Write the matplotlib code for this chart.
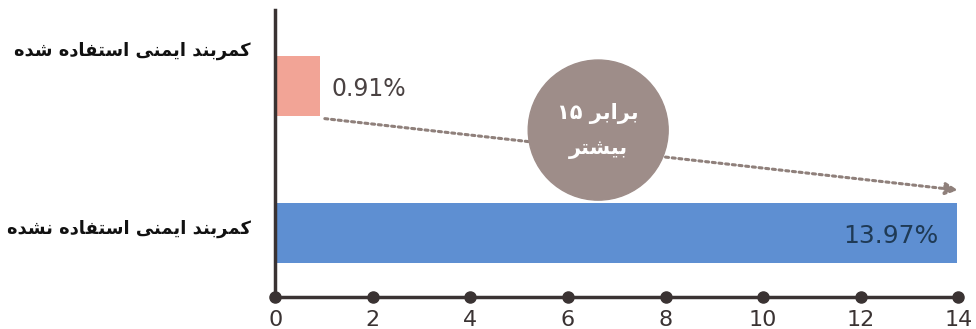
import re
import matplotlib
matplotlib.use("Agg")
import matplotlib.pyplot as plt
from matplotlib.patches import Ellipse

# data
categories = ["کمربند ایمنی استفاده نشده", "کمربند ایمنی استفاده شده"]
values = [13.97, 0.91]
value_labels = ["13.97%", "0.91%"]
bar_colors = ["#5e8fd2", "#f2a496"]
xticks = [0, 2, 4, 6, 8, 10, 12, 14]
bubble_text = ["برابر ۱۵", "بیشتر"]

# minimal arabic/persian shaping (no reshaper lib in the sandbox)
FORMS = {
    'ا': ('\uFE8D', '\uFE8E', None, None),
    'ب': ('\uFE8F', '\uFE90', '\uFE91', '\uFE92'),
    'ت': ('\uFE95', '\uFE96', '\uFE97', '\uFE98'),
    'د': ('\uFEA9', '\uFEAA', None, None),
    'ر': ('\uFEAD', '\uFEAE', None, None),
    'س': ('\uFEB1', '\uFEB2', '\uFEB3', '\uFEB4'),
    'ش': ('\uFEB5', '\uFEB6', '\uFEB7', '\uFEB8'),
    'ف': ('\uFED1', '\uFED2', '\uFED3', '\uFED4'),
    'ک': ('\uFED9', '\uFEDA', '\uFEDB', '\uFEDC'),
    'م': ('\uFEE1', '\uFEE2', '\uFEE3', '\uFEE4'),
    'ن': ('\uFEE5', '\uFEE6', '\uFEE7', '\uFEE8'),
    'ه': ('\uFEE9', '\uFEEA', '\uFEEB', '\uFEEC'),
    'ی': ('\uFEEF', '\uFEF0', '\uFEF3', '\uFEF4'),
}

def shape(s):
    out = []
    for i, ch in enumerate(s):
        f = FORMS.get(ch)
        if f is None:
            out.append(ch)
            continue
        prev = s[i-1] if i > 0 else None
        nxt = s[i+1] if i+1 < len(s) else None
        jp = prev in FORMS and FORMS[prev][2] is not None
        jn = nxt in FORMS and f[2] is not None
        if jp and jn:
            out.append(f[3])
        elif jp:
            out.append(f[1])
        elif jn:
            out.append(f[2])
        else:
            out.append(f[0])
    return ''.join(out)

def rtl(s):
    # matplotlib draws glyphs left to right, so flip to visual order
    v = shape(s)[::-1]
    return re.sub(r'[۰-۹0-9]+', lambda m: m.group(0)[::-1], v)

fig = plt.figure(figsize=(9.76, 3.29), dpi=100)
ax = fig.add_axes([0.282, 0.097, 0.6998, 0.873])

ypos = [0, 1]
ax.barh(ypos, values, height=0.41, color=bar_colors, zorder=2)
ax.set_xlim(0, 14)
ax.set_ylim(-0.435, 1.517)

for sp in ["top", "right"]:
    ax.spines[sp].set_visible(False)
axis_col = "#3a3333"
ax.spines["left"].set_color(axis_col)
ax.spines["bottom"].set_color(axis_col)
ax.spines["left"].set_linewidth(2.5)
ax.spines["bottom"].set_linewidth(2.5)

ax.set_xticks(xticks)
ax.set_xticklabels([str(t) for t in xticks], fontsize=16, color="#3a3333")
ax.tick_params(axis="x", length=0, pad=9)
ax.set_yticks([])
ax.plot(xticks, [-0.435] * len(xticks), "o", color=axis_col, ms=8,
        clip_on=False, zorder=5)

# category labels (top one sits above its bar in the source)
label_y = [0.03, 1.24]
for y, c in zip(label_y, categories):
    ax.text(-0.5, y, rtl(c), ha="right", va="center", fontsize=12.9,
            fontweight="bold", color="#111111", family="DejaVu Sans")

# value labels
ax.text(values[0] - 0.38, ypos[0] - 0.02, value_labels[0], ha="right",
        va="center", fontsize=18, color="#1f3a55")
ax.text(values[1] + 0.25, ypos[1] - 0.02, value_labels[1], ha="left",
        va="center", fontsize=17, color="#4a4242")

# dotted arrow
ax.annotate("", xy=(14.05, 0.29), xytext=(0.96, 0.78),
            arrowprops=dict(arrowstyle="-|>", color="#8f807b", lw=2.2,
                            linestyle=(0, (1, 1.2)), mutation_scale=18),
            annotation_clip=False, zorder=3)

# bubble
ax.add_patch(Ellipse((6.62, 0.70), 140 / 48.8, 140 / 147, color="#9e8d89",
                     zorder=4))
ax.text(6.62, 0.81, rtl(bubble_text[0]), ha="center", va="center",
        fontsize=15, fontweight="bold", color="white", zorder=6)
ax.text(6.62, 0.57, rtl(bubble_text[1]), ha="center", va="center",
        fontsize=15, fontweight="bold", color="white", zorder=6)

fig.savefig("out.png", dpi=100)
